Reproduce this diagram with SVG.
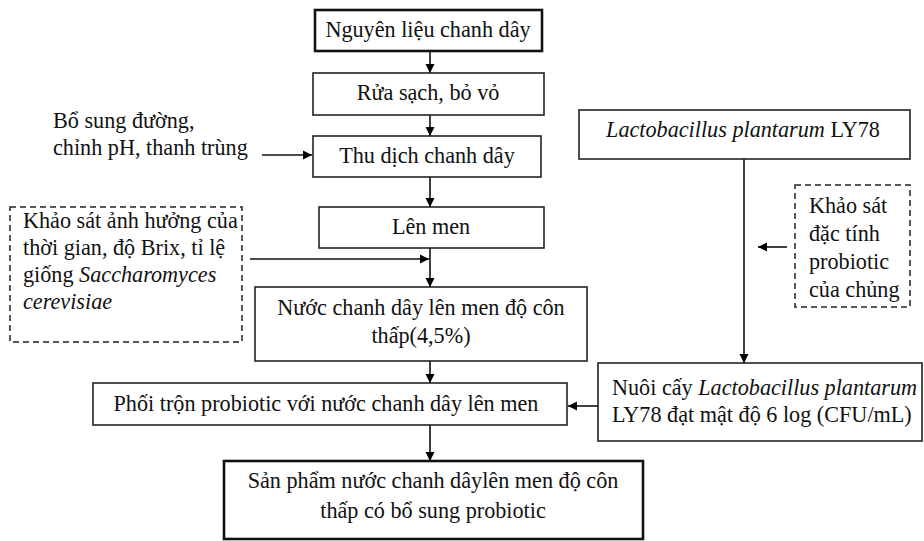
<svg xmlns="http://www.w3.org/2000/svg" width="924" height="541" viewBox="0 0 924 541">
<defs>
<marker id="arr" markerUnits="userSpaceOnUse" markerWidth="10" markerHeight="10" refX="9" refY="5" orient="auto">
<path d="M0,0.5 L9,5 L0,9.5 z" fill="#000"/>
</marker>
<style>
text{font-family:"Liberation Serif","Times New Roman",serif;font-size:22.2px;fill:#111}
.box{fill:#fff;stroke:#222;stroke-width:1.6}
.thick{fill:#fff;stroke:#111;stroke-width:2.6}
.dash{fill:#fff;stroke:#222;stroke-width:1.5;stroke-dasharray:6,4}
.c{text-anchor:middle}
.i{font-style:italic}
.ln{fill:none;stroke:#111;stroke-width:1.6}
</style>
</defs>
<rect width="924" height="541" fill="#fff"/>

<g id="connectors">
<line class="ln" x1="430" y1="51" x2="430" y2="73" marker-end="url(#arr)"/>
<line class="ln" x1="430" y1="115" x2="430" y2="136" marker-end="url(#arr)"/>
<line class="ln" x1="430" y1="177" x2="430" y2="207" marker-end="url(#arr)"/>
<line class="ln" x1="430" y1="248" x2="430" y2="287" marker-end="url(#arr)"/>
<line class="ln" x1="250" y1="259" x2="429" y2="259" marker-end="url(#arr)"/>
<line class="ln" x1="430" y1="361" x2="430" y2="383" marker-end="url(#arr)"/>
<line class="ln" x1="430" y1="425" x2="430" y2="461" marker-end="url(#arr)"/>
<line class="ln" x1="262" y1="155" x2="312" y2="155" marker-end="url(#arr)"/>
<line class="ln" x1="744" y1="159" x2="744" y2="363" marker-end="url(#arr)"/>
<line class="ln" x1="787" y1="247" x2="758" y2="247" marker-end="url(#arr)"/>
<line class="ln" x1="598" y1="406" x2="568" y2="406" marker-end="url(#arr)"/>
</g>

<g id="n1">
<rect class="thick" x="315" y="10" width="227" height="41"/>
<text class="c" x="428" y="37">Nguyên liệu chanh dây</text>
</g>
<g id="n2">
<rect class="box" x="313" y="73" width="231" height="42"/>
<text class="c" x="428" y="100">Rửa sạch, bỏ vỏ</text>
</g>
<g id="n3">
<rect class="box" x="313" y="136" width="228" height="41"/>
<text class="c" x="427" y="163">Thu dịch chanh dây</text>
</g>
<g id="add1">
<text x="53" y="128">Bổ sung đường,</text>
<text x="53" y="155">chỉnh pH, thanh trùng</text>
</g>
<g id="n4">
<rect class="box" x="319" y="207" width="225" height="41"/>
<text class="c" x="431" y="234">Lên men</text>
</g>
<g id="survey1">
<rect class="dash" x="10" y="207" width="232" height="135"/>
<text x="23" y="228">Khảo sát ảnh hưởng của</text>
<text x="23" y="255">thời gian, độ Brix, tỉ lệ</text>
<text x="23" y="282">giống <tspan class="i">Saccharomyces</tspan></text>
<text x="23" y="309" class="i">cerevisiae</text>
</g>
<g id="n5">
<rect class="box" x="255" y="287" width="332" height="74"/>
<text class="c" x="421" y="315">Nước chanh dây lên men độ côn</text>
<text class="c" x="421" y="343">thấp(4,5%)</text>
</g>
<g id="n6">
<rect class="box" x="93" y="383" width="474" height="42"/>
<text class="c" x="326" y="411">Phối trộn probiotic với nước chanh dây lên men</text>
</g>
<g id="n7">
<rect class="thick" x="224" y="461" width="419" height="78"/>
<text class="c" x="433" y="488">Sản phẩm nước chanh dâylên men độ côn</text>
<text class="c" x="433" y="518">thấp có bổ sung probiotic</text>
</g>
<g id="lacto">
<rect class="box" x="579" y="110" width="331" height="49"/>
<text class="c" x="743" y="137"><tspan class="i">Lactobacillus plantarum</tspan> LY78</text>
</g>
<g id="survey2">
<rect class="dash" x="795" y="185" width="115" height="122"/>
<text x="809" y="213">Khảo sát</text>
<text x="809" y="241">đặc tính</text>
<text x="809" y="269">probiotic</text>
<text x="809" y="297">của chủng</text>
</g>
<g id="culture">
<rect class="box" x="598" y="363" width="324" height="78"/>
<text x="612" y="395">Nuôi cấy <tspan class="i">Lactobacillus  plantarum</tspan></text>
<text x="612" y="422">LY78 đạt mật độ 6 log (CFU/mL)</text>
</g>
</svg>
